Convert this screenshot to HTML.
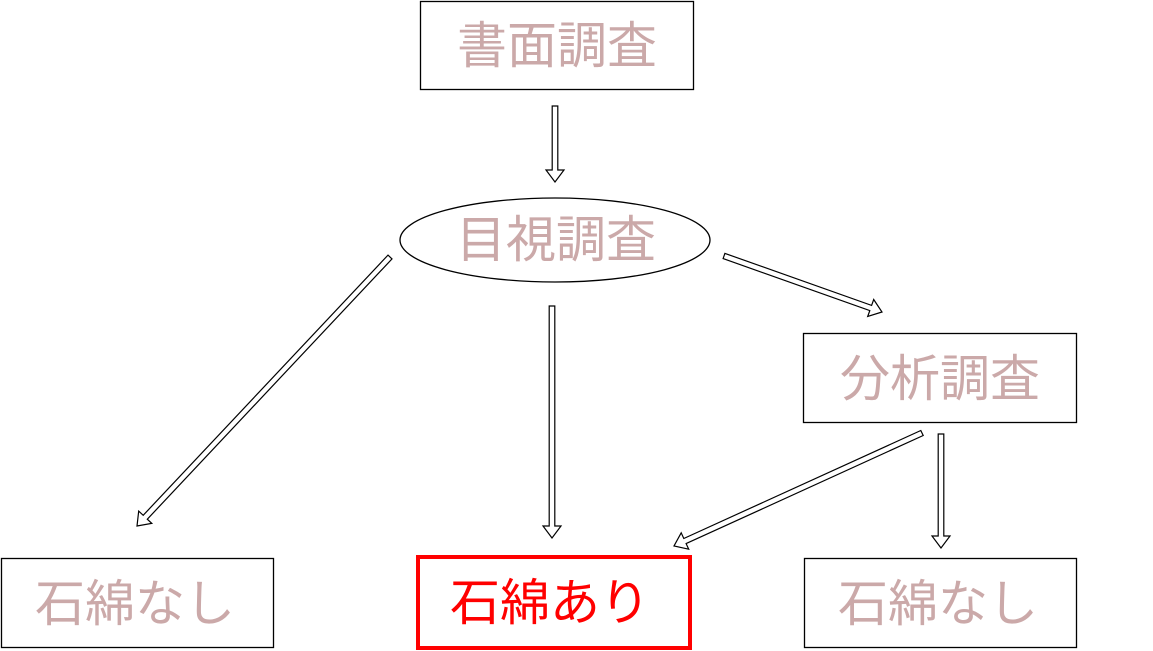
<!DOCTYPE html>
<html><head><meta charset="utf-8"><style>
body{margin:0;background:#fff;width:1153px;height:651px;overflow:hidden}
svg{display:block}
text{font-family:"Liberation Sans","Noto Sans CJK JP",sans-serif;font-size:50px;text-anchor:middle;dominant-baseline:central}
</style></head><body>
<svg id="s" width="1153" height="651" xmlns="http://www.w3.org/2000/svg">
<g fill="#fff" stroke="#000" stroke-width="1.3">
<rect x="420.5" y="1.5" width="273" height="88"/>
<ellipse cx="555" cy="240" rx="155" ry="42"/>
<rect x="803.5" y="333.5" width="273" height="89"/>
<rect x="1.5" y="558.5" width="272" height="89"/>
<rect x="804.5" y="558.5" width="272" height="89"/>
</g>
<rect x="418" y="557" width="272" height="91" fill="none" stroke="#f00" stroke-width="4"/>
<g fill="#cba9a9">
<text x="557" y="46">書面調査</text>
<text x="556" y="240">目視調査</text>
<text x="940" y="379">分析調査</text>
<text x="135" y="604">石綿なし</text>
<text x="938" y="604">石綿なし</text>
</g>
<text x="550" y="603" fill="#f00">石綿あり</text>
<g id="arr" fill="#fff" stroke="#000" stroke-width="1.2"></g>
</svg>
<script>
var A=[[555,106,555,182],[390,257,137,526],[552,306,552,538],[724,256,882,312],[922,433,674,546],[941,434,941,548]];
var g=document.getElementById('arr'),out='';
A.forEach(function(a){var dx=a[2]-a[0],dy=a[3]-a[1],L=Math.hypot(dx,dy),ux=dx/L,uy=dy/L,px=-uy,py=ux,w=2.8,h=9,hl=12;
var bx=a[2]-ux*hl,by=a[3]-uy*hl;
var P=[[a[0]+px*w,a[1]+py*w],[bx+px*w,by+py*w],[bx+px*h,by+py*h],[a[2],a[3]],[bx-px*h,by-py*h],[bx-px*w,by-py*w],[a[0]-px*w,a[1]-py*w]];
out+='<polygon points="'+P.map(function(p){return p[0].toFixed(1)+','+p[1].toFixed(1)}).join(' ')+'"/>';});
g.innerHTML=out;
</script>
</body></html>
